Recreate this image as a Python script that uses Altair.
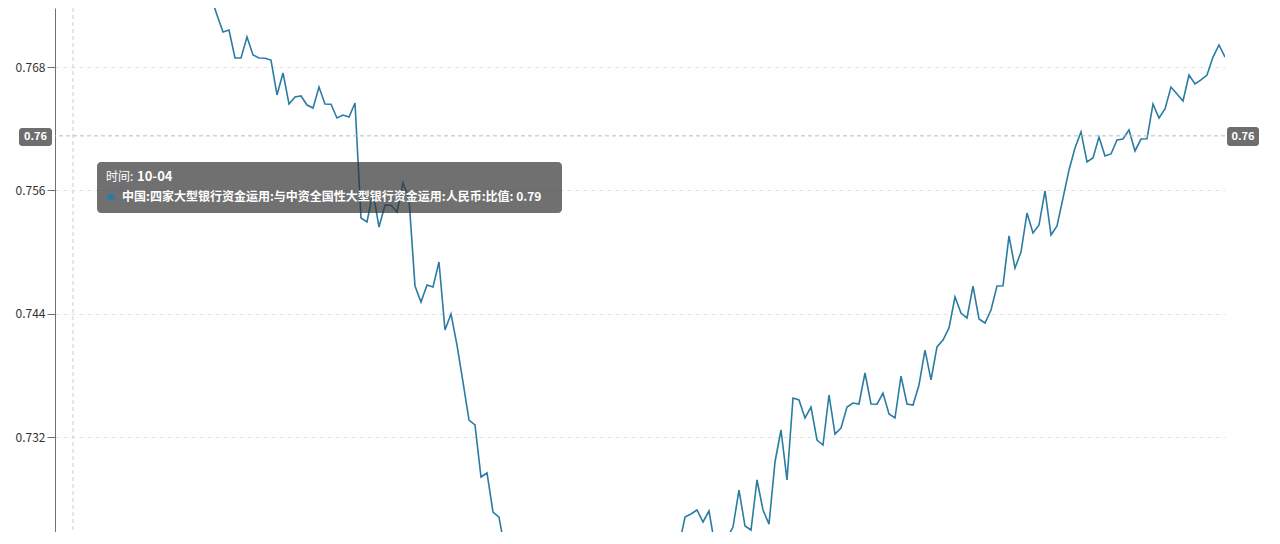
import altair as alt
import pandas as pd

# ---- data ----
ratio = [
    0.7915, 0.7922, 0.7908, 0.7900, 0.7893, 0.7897, 0.7881, 0.7874, 0.7868, 0.7859,
    0.7862, 0.7847, 0.7840, 0.7836, 0.7822, 0.7826, 0.7814, 0.7808, 0.7801, 0.7795,
    0.7788, 0.7790, 0.7779, 0.7772, 0.7766,
    0.77403, 0.77481, 0.77306, 0.77141, 0.77160, 0.76888, 0.76888, 0.77092, 0.76917, 0.76888,
    0.76885, 0.76868, 0.76528, 0.76742, 0.76440, 0.76508, 0.76518, 0.76430, 0.76401, 0.76605,
    0.76440, 0.76438, 0.76304, 0.76333, 0.76314, 0.76450,
    0.75331, 0.75292, 0.75584, 0.75243, 0.75457, 0.75455, 0.75389, 0.75671, 0.75516,
    0.74669, 0.74513, 0.74679, 0.74659, 0.74903, 0.74241, 0.74397, 0.74095, 0.73735, 0.73365,
    0.73317, 0.72811, 0.72850, 0.72470, 0.72421, 0.72100, 0.71954, 0.71857, 0.71925, 0.71809,
    0.71886, 0.71760, 0.71828, 0.71906, 0.71847, 0.71984, 0.72246, 0.72081, 0.72120, 0.72178,
    0.72081, 0.72003, 0.72052, 0.71945, 0.72023, 0.71906, 0.71984, 0.71857, 0.71925, 0.71886,
    0.71974, 0.71945, 0.72042, 0.72003, 0.72139, 0.72421, 0.72451, 0.72490, 0.72373, 0.72480,
    0.72139, 0.72266, 0.72217, 0.72324, 0.72684, 0.72334, 0.72295, 0.72782, 0.72490, 0.72353,
    0.72957, 0.73268, 0.72782, 0.73579, 0.73560, 0.73385, 0.73492, 0.73171, 0.73122, 0.73609,
    0.73229, 0.73288, 0.73492, 0.73531, 0.73521, 0.73823, 0.73521, 0.73519, 0.73628, 0.73424,
    0.73385, 0.73793, 0.73521, 0.73511, 0.73706, 0.74046, 0.73755, 0.74076, 0.74144, 0.74261,
    0.74562, 0.74406, 0.74358, 0.74669, 0.74348, 0.74309, 0.74436, 0.74669, 0.74671, 0.75156,
    0.74844, 0.75000, 0.75379, 0.75185, 0.75263, 0.75594, 0.75165, 0.75253, 0.75525, 0.75798,
    0.76012, 0.76168, 0.75876, 0.75915, 0.76119, 0.75934, 0.75954, 0.76090, 0.76099, 0.76187,
    0.75983, 0.76099, 0.76101, 0.76440, 0.76304, 0.76391, 0.76605, 0.76537, 0.76469, 0.76722,
    0.76635, 0.76674, 0.76722, 0.76897, 0.77014, 0.76897,
]
y_ticks = [0.732, 0.744, 0.756, 0.768]

series_name = "中国:四家大型银行资金运用:与中资全国性大型银行资金运用:人民币:比值"
hover_index = 3
hover_time = "10-04"
hover_value = "0.79"
cross_value = 0.7613
cross_label = "0.76"

# ---- layout ----
W, H = 1170, 524
PX_PER_UNIT = 10278.0
TOP_GAP = 59  # pixels from plot top to the 0.768 gridline
y_domain = [0.768 - (H - TOP_GAP) / PX_PER_UNIT, 0.768 + TOP_GAP / PX_PER_UNIT]

LINE_COLOR = "#2b7ca3"
FONT = "Noto Sans CJK SC"

df = pd.DataFrame({"idx": list(range(len(ratio))), "v": ratio})
x_enc = alt.X("idx:Q", scale=alt.Scale(domain=[0, len(ratio) - 1], nice=False, zero=False), axis=None)
y_scale = alt.Scale(domain=y_domain, nice=False, zero=False)

base_line = alt.Chart(df).mark_line(color=LINE_COLOR, strokeWidth=1.6, clip=True).encode(
    x=x_enc,
    y=alt.Y(
        "v:Q",
        scale=y_scale,
        axis=alt.Axis(
            values=y_ticks,
            format=".3f",
            title=None,
            grid=True,
            gridColor="#e2e2e2",
            gridDash=[4, 4],
            domainColor="#6e7079",
            tickColor="#6e7079",
            tickSize=8,
            labelPadding=2,
            labelFont=FONT,
            labelFontSize=12,
            labelColor="#333333",
        ),
    ),
)

one = pd.DataFrame({"k": [0]})
hdf = pd.DataFrame({"idx": [hover_index], "v": [cross_value]})

vrule = alt.Chart(hdf).mark_rule(color="#cccccc", strokeDash=[4, 3], strokeWidth=1).encode(
    x=alt.X("idx:Q", scale=alt.Scale(domain=[0, len(ratio) - 1], nice=False, zero=False), axis=None)
)
hrule = alt.Chart(hdf).mark_rule(color="#bbbbbb", strokeDash=[4, 3], strokeWidth=1).encode(
    y=alt.Y("v:Q", scale=y_scale)
)

lbl_left_box = alt.Chart(one).mark_rect(fill="#6e6e6e", cornerRadius=3).encode(
    x=alt.value(-36), x2=alt.value(-3), y=alt.value(120), y2=alt.value(138)
)
lbl_left_txt = alt.Chart(one).mark_text(
    text=cross_label, font=FONT, fontSize=11, fontWeight="bold", color="white", align="center", baseline="middle"
).encode(x=alt.value(-19.5), y=alt.value(129))
lbl_right_box = alt.Chart(one).mark_rect(fill="#6e6e6e", cornerRadius=3).encode(
    x=alt.value(1172), x2=alt.value(1204), y=alt.value(119), y2=alt.value(138)
)
lbl_right_txt = alt.Chart(one).mark_text(
    text=cross_label, font=FONT, fontSize=11, fontWeight="bold", color="white", align="center", baseline="middle"
).encode(x=alt.value(1188), y=alt.value(128.5))

tip_box = alt.Chart(one).mark_rect(fill="#333333", opacity=0.7, cornerRadius=4).encode(
    x=alt.value(42), x2=alt.value(507), y=alt.value(154), y2=alt.value(205)
)
tip_t1 = alt.Chart(one).mark_text(
    text="时间: ", font=FONT, fontSize=12, color="white", align="left", baseline="middle"
).encode(x=alt.value(51), y=alt.value(169))
tip_t2 = alt.Chart(one).mark_text(
    text=hover_time, font=FONT, fontSize=13, fontWeight="bold", color="white", align="left", baseline="middle"
).encode(x=alt.value(82), y=alt.value(169))
tip_dot = alt.Chart(one).mark_circle(color=LINE_COLOR, opacity=1, size=50).encode(
    x=alt.value(56), y=alt.value(189)
)
tip_t3 = alt.Chart(one).mark_text(
    text=f"{series_name}: {hover_value}", font=FONT, fontSize=12, fontWeight="bold",
    color="white", align="left", baseline="middle"
).encode(x=alt.value(67), y=alt.value(189))

chart = alt.layer(
    base_line, vrule, hrule,
    lbl_left_box, lbl_left_txt, lbl_right_box, lbl_right_txt,
    tip_box, tip_t1, tip_t2, tip_dot, tip_t3,
).properties(
    width=W,
    height=H,
    padding={"left": 47, "top": 0, "right": 40, "bottom": 0},
    autosize=alt.AutoSizeParams(type="none"),
    background="white",
).configure_view(stroke=None)

chart.save("out.html", embed_options={"renderer": "svg", "actions": False})
